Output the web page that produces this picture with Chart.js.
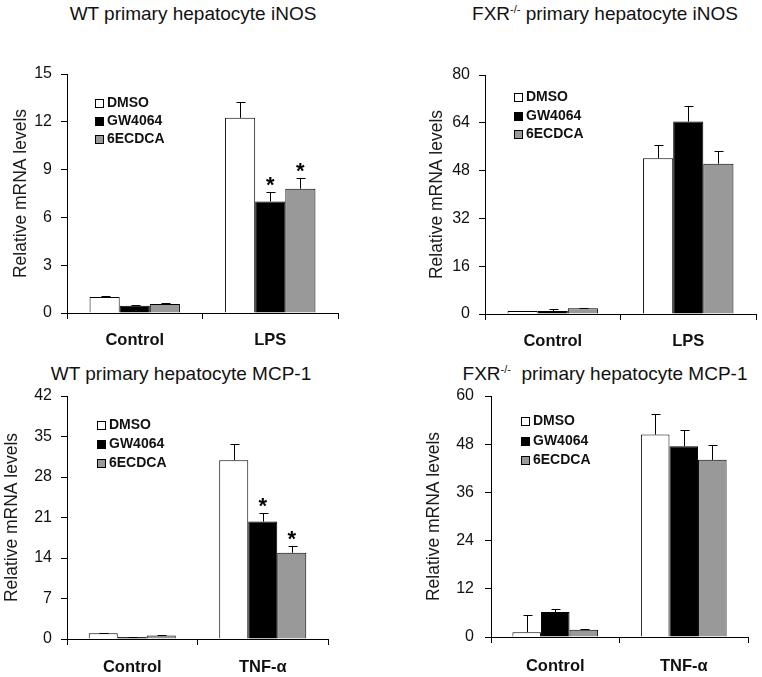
<!DOCTYPE html>
<html><head><meta charset="utf-8">
<script src="https://cdn.jsdelivr.net/npm/chart.js@4.4.0/dist/chart.umd.min.js"></script>
<style>
body{margin:0;background:#fff;width:762px;height:677px;overflow:hidden;position:relative;font-family:"Liberation Sans",Arial,sans-serif;}
canvas{position:absolute;}
.t{position:absolute;font-size:19px;line-height:19px;white-space:nowrap;color:#111;transform:translateX(-50%);}
.t sup{font-size:11px;line-height:0;vertical-align:7px;}
</style></head><body>
<div class="t" style="left:193px;top:4px">WT primary hepatocyte iNOS</div>
<div class="t" style="left:605px;top:4px">FXR<sup>-/-</sup> primary hepatocyte iNOS</div>
<div class="t" style="left:181px;top:364px">WT primary hepatocyte MCP-1</div>
<div class="t" style="left:605px;top:364px">FXR<sup>-/-</sup>&nbsp; primary hepatocyte MCP-1</div>
<canvas id="c1" width="381" height="355" style="left:0;top:0"></canvas>
<canvas id="c2" width="381" height="355" style="left:381px;top:0"></canvas>
<canvas id="c3" width="381" height="322" style="left:0;top:355px"></canvas>
<canvas id="c4" width="381" height="322" style="left:381px;top:355px"></canvas>
<script>
// ---- data ----
const treatments = ['DMSO', 'GW4064', '6ECDCA'];
const inosCategories = ['Control', 'LPS'];
const mcpCategories = ['Control', 'TNF-α'];
const yAxisLabel = 'Relative mRNA levels';

// WT iNOS (rows: DMSO, GW4064, 6ECDCA; cols: categories)
const wtInosValues = [[1.0, 12.25], [0.45, 7.0], [0.57, 7.8]];
const wtInosErrors = [[0.05, 1.0], [0.03, 0.6], [0.06, 0.65]];
const wtInosSig = [[false, false], [false, true], [false, true]];
const wtInosTicks = [0, 3, 6, 9, 12, 15];

// FXR-/- iNOS
const fxrInosValues = [[1.0, 52.1], [1.0, 64.4], [1.9, 50.3]];
const fxrInosErrors = [[0.1, 4.6], [0.6, 5.3], [0.15, 4.1]];
const fxrInosSig = [[false, false], [false, false], [false, false]];
const fxrInosTicks = [0, 16, 32, 48, 64, 80];

// WT MCP-1
const wtMcpValues = [[1.0, 30.9], [0.35, 20.3], [0.6, 14.9]];
const wtMcpErrors = [[0.1, 2.8], [0.05, 1.5], [0.1, 1.2]];
const wtMcpSig = [[false, false], [false, true], [false, true]];
const wtMcpTicks = [0, 7, 14, 21, 28, 35, 42];

// FXR-/- MCP-1
const fxrMcpValues = [[1.2, 50.4], [6.2, 47.5], [1.8, 44.1]];
const fxrMcpErrors = [[4.2, 5.1], [0.7, 4.0], [0.3, 3.8]];
const fxrMcpSig = [[false, false], [false, false], [false, false]];
const fxrMcpTicks = [0, 12, 24, 36, 48, 60];

const barColors = ['#ffffff', '#000000', '#999999'];
const FONT = '"Liberation Sans", Arial, sans-serif';
Chart.defaults.font.family = FONT;
Chart.defaults.color = '#111';

const extrasPlugin = {
  id: 'extras',
  afterDatasetsDraw(chart, args, opts) {
    const ctx = chart.ctx, y = chart.scales.y, area = chart.chartArea;
    ctx.save();
    ctx.strokeStyle = '#000';
    ctx.lineWidth = 1;
    chart.data.datasets.forEach((ds, i) => {
      const meta = chart.getDatasetMeta(i);
      meta.data.forEach((bar, j) => {
        const v = ds.data[j], e = ds.errors[j];
        const yTop = y.getPixelForValue(v);
        const yE = Math.round(y.getPixelForValue(v + e)) + 0.5;
        const x = Math.round(bar.x) + 0.5;
        ctx.beginPath();
        ctx.moveTo(x, yTop);
        ctx.lineTo(x, yE);
        ctx.moveTo(x - 4, yE);
        ctx.lineTo(x + 5, yE);
        ctx.stroke();
        if (ds.sig[j]) {
          ctx.fillStyle = '#000';
          ctx.font = 'bold 22px ' + FONT;
          ctx.textAlign = 'center';
          ctx.textBaseline = 'alphabetic';
          ctx.fillText('*', bar.x, yE - 1);
        }
      });
    });
    // legend inside the plot area
    const lg = opts.legend;
    ctx.font = 'bold 14px ' + FONT;
    ctx.textAlign = 'left';
    ctx.textBaseline = 'middle';
    chart.data.datasets.forEach((ds, i) => {
      const bx = Math.round(area.left + lg.dx) + 0.5;
      const cy = area.top + lg.dy + i * lg.gap;
      const by = Math.round(cy - 4) + 0.5;
      ctx.fillStyle = ds.backgroundColor;
      ctx.fillRect(bx, by, 8, 8);
      ctx.strokeRect(bx, by, 8, 8);
      ctx.fillStyle = '#111';
      ctx.fillText(ds.label, bx + 11.5, cy + 0.5);
    });
    ctx.restore();
  }
};

function makeChart(id, categories, values, errors, sigs, ticks, L) {
  const datasets = treatments.map((t, i) => ({
    label: t,
    data: values[i],
    errors: errors[i],
    sig: sigs[i],
    backgroundColor: barColors[i],
    borderColor: '#000',
    borderWidth: 1,
    borderSkipped: 'bottom',
    categoryPercentage: 0.667,
    barPercentage: 1.0
  }));
  return new Chart(document.getElementById(id), {
    type: 'bar',
    data: { labels: categories, datasets },
    plugins: [extrasPlugin],
    options: {
      responsive: false,
      animation: false,
      layout: { padding: { left: 0, top: L.padTop, right: L.padRight, bottom: 0 } },
      plugins: {
        legend: { display: false },
        tooltip: { enabled: false },
        extras: { legend: L.legend }
      },
      scales: {
        x: {
          grid: { display: true, drawOnChartArea: false, drawTicks: true, tickLength: 6, color: '#000', offset: true },
          border: { display: true, color: '#000', width: 1 },
          ticks: { font: { size: 16.5, weight: 'bold' }, color: '#111', padding: L.xPad, maxRotation: 0 },
          afterFit: s => { s.height = L.xH; }
        },
        y: {
          min: 0,
          max: ticks[ticks.length - 1],
          afterBuildTicks: s => { s.ticks = ticks.map(v => ({ value: v })); },
          grid: { display: true, drawOnChartArea: false, drawTicks: true, tickLength: 6, color: '#000' },
          border: { display: true, color: '#000', width: 1 },
          ticks: { font: { size: 16 }, color: '#111', padding: L.yPad },
          title: { display: true, text: yAxisLabel, font: { size: 17.5, lineHeight: 1 }, color: '#1a1a1a', padding: { top: L.yTitlePad, bottom: 0 } },
          afterFit: s => { s.width = L.yW; }
        }
      }
    }
  });
}

makeChart('c1', inosCategories, wtInosValues, wtInosErrors, wtInosSig, wtInosTicks,
  { padTop: 74, padRight: 43, yW: 67, xH: 42, yTitlePad: 12, xPad: 12, yPad: 9, legend: { dx: 28, dy: 29, gap: 18 } });
makeChart('c2', inosCategories, fxrInosValues, fxrInosErrors, fxrInosSig, fxrInosTicks,
  { padTop: 75, padRight: 6, yW: 104, xH: 41, yTitlePad: 47, xPad: 12, yPad: 9, legend: { dx: 29, dy: 22, gap: 18.5 } });
makeChart('c3', mcpCategories, wtMcpValues, wtMcpErrors, wtMcpSig, wtMcpTicks,
  { padTop: 41, padRight: 53, yW: 67, xH: 38, yTitlePad: 3, xPad: 13, yPad: 9, legend: { dx: 30, dy: 29, gap: 19 } });
makeChart('c4', mcpCategories, fxrMcpValues, fxrMcpErrors, fxrMcpSig, fxrMcpTicks,
  { padTop: 41, padRight: 14, yW: 110, xH: 40, yTitlePad: 44, xPad: 14, yPad: 11, legend: { dx: 30, dy: 25, gap: 19.5 } });
</script>
</body></html>
